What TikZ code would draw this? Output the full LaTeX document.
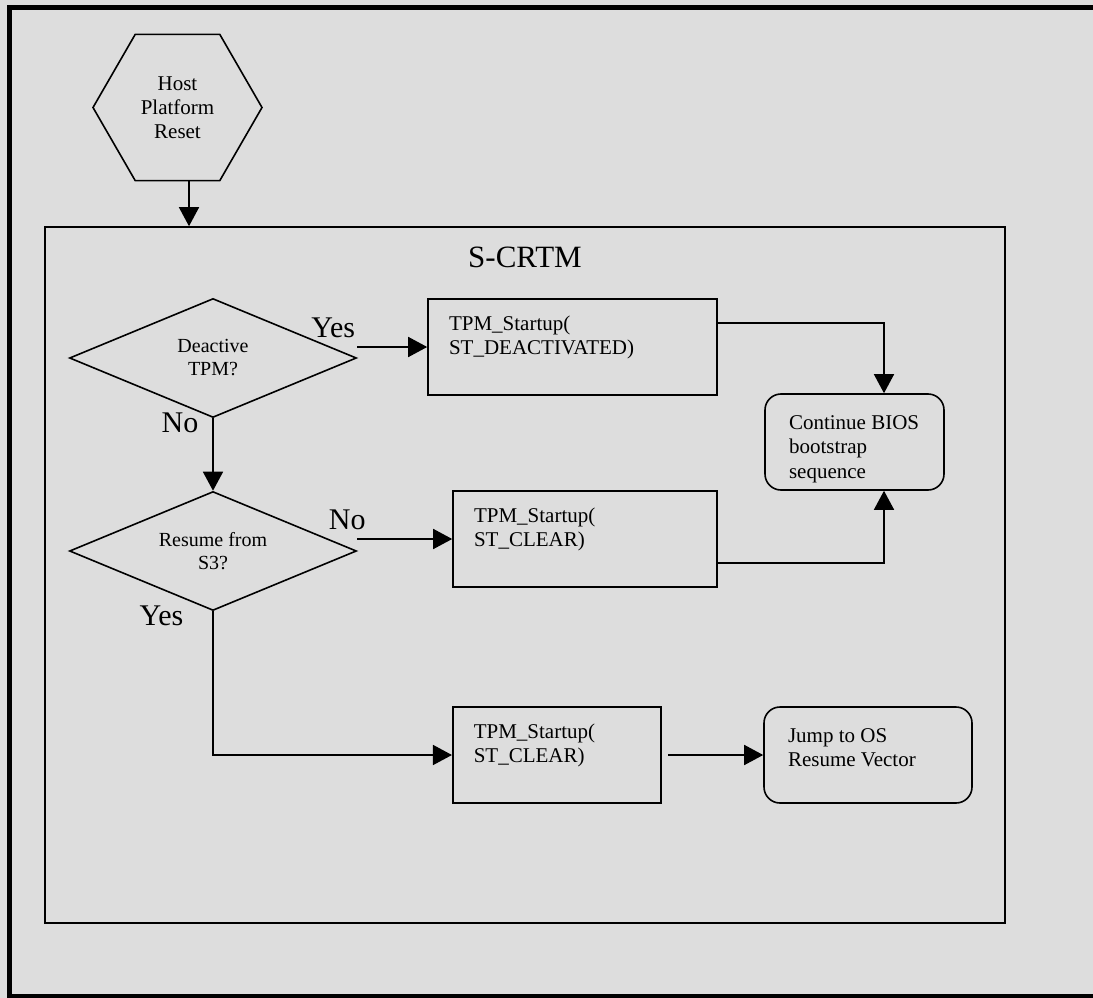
\documentclass[tikz,border=0pt]{standalone}
\usepackage{fontspec}
\setmainfont{Liberation Serif}
\usepackage{xcolor}
\usetikzlibrary{shapes.geometric}
\usetikzlibrary{arrows.meta}
\usetikzlibrary{calc}
\definecolor{panelgray}{RGB}{221,221,221}
\newcommand{\boxtxt}[3]{\parbox[t][#2pt][t]{#1pt}{\raggedright\fontsize{21}{24.5}\selectfont #3}}

\begin{document}
\begin{tikzpicture}[x=1pt,y=-1pt,
arr/.style={line width=1.6pt,-{Triangle[length=19pt,width=20pt]}},
hexa/.style={draw,line width=1.6pt,regular polygon,regular polygon sides=6,minimum size=169pt,inner sep=0pt,align=center,font=\fontsize{21}{24}\selectfont},
decision/.style={draw,line width=1.6pt,diamond,aspect=2.4,minimum width=287pt,minimum height=119pt,inner sep=0pt,align=center,font=\fontsize{20}{23}\selectfont},
proc/.style={draw,line width=1.6pt,rectangle,inner xsep=21pt,inner ysep=16.5pt},
term/.style={draw,line width=1.6pt,rectangle,rounded corners=16pt,inner xsep=24pt,inner ysep=21.5pt},
answer/.style={anchor=base,font=\fontsize{30}{32}\selectfont}]
\useasboundingbox (0,0) rectangle (1093,998);
\clip (0,0) rectangle (1093,998);
\fill[panelgray] (0,0) rectangle (1093,998);
\draw[line width=5pt] (1110,7.5) -| (9,996) -- (1110,996);

\node (host) [hexa] at (177.5,107.5) {Host\\Platform\\Reset};
\node (scrtm) [draw,line width=1.6pt,minimum width=960pt,minimum height=696pt,inner sep=0pt] at (525,575) {};
\node (title) [anchor=base,font=\fontsize{31}{34}\selectfont] at ($(scrtm.north)+(0,41)$) {S-CRTM};

\node (dec1) [decision] at (213,358) {Deactive\\TPM?};
\node (dec2) [decision] at (213,551) {Resume from\\S3?};

\node (box1) [proc] at (572.5,347) {\boxtxt{247}{63}{TPM\_Startup(\\ST\_DEACTIVATED)}};
\node (box2) [proc] at (585,539) {\boxtxt{222}{63}{TPM\_Startup(\\ST\_CLEAR)}};
\node (box3) [proc] at (557,755) {\boxtxt{166.5}{63}{TPM\_Startup(\\ST\_CLEAR)}};
\node (cont) [term] at (854.5,442) {\boxtxt{131}{53}{\mbox{Continue BIOS}\\bootstrap\\sequence}};
\node (jump) [term] at (868,755) {\boxtxt{160}{53}{Jump to OS\\Resume Vector}};

\node (yes1) [answer] at ($(dec1.east)+(-24,-21)$) {Yes};
\node (no1) [answer] at ($(dec1.south)+(-33,14)$) {No};
\node (no2) [answer] at ($(dec2.east)+(-10,-22)$) {No};
\node (yes2) [answer] at ($(dec2.south)+(-51.5,14.5)$) {Yes};

%\draw[help lines] (0,0) grid (1093,998);
\coordinate (drop) at ([xshift=11.5pt]host.south);
\draw[arr] (drop) -- (drop |- scrtm.north);
\draw[arr] (dec1.east |- box1.west) -- (box1.west);
\draw[arr] ([yshift=24pt]box1.east) -| ([xshift=29.5pt]cont.north);
\draw[arr] (dec1.south) -- (dec2.north);
\draw[arr] (dec2.east |- box2.west) -- (box2.west);
\draw[arr] ([yshift=-24pt]box2.east) -| ([xshift=29.5pt]cont.south);
\draw[arr] (dec2.south) |- (box3.west);
\draw[arr] ([xshift=6pt]box3.east) -- (jump.west);
\end{tikzpicture}
\end{document}
